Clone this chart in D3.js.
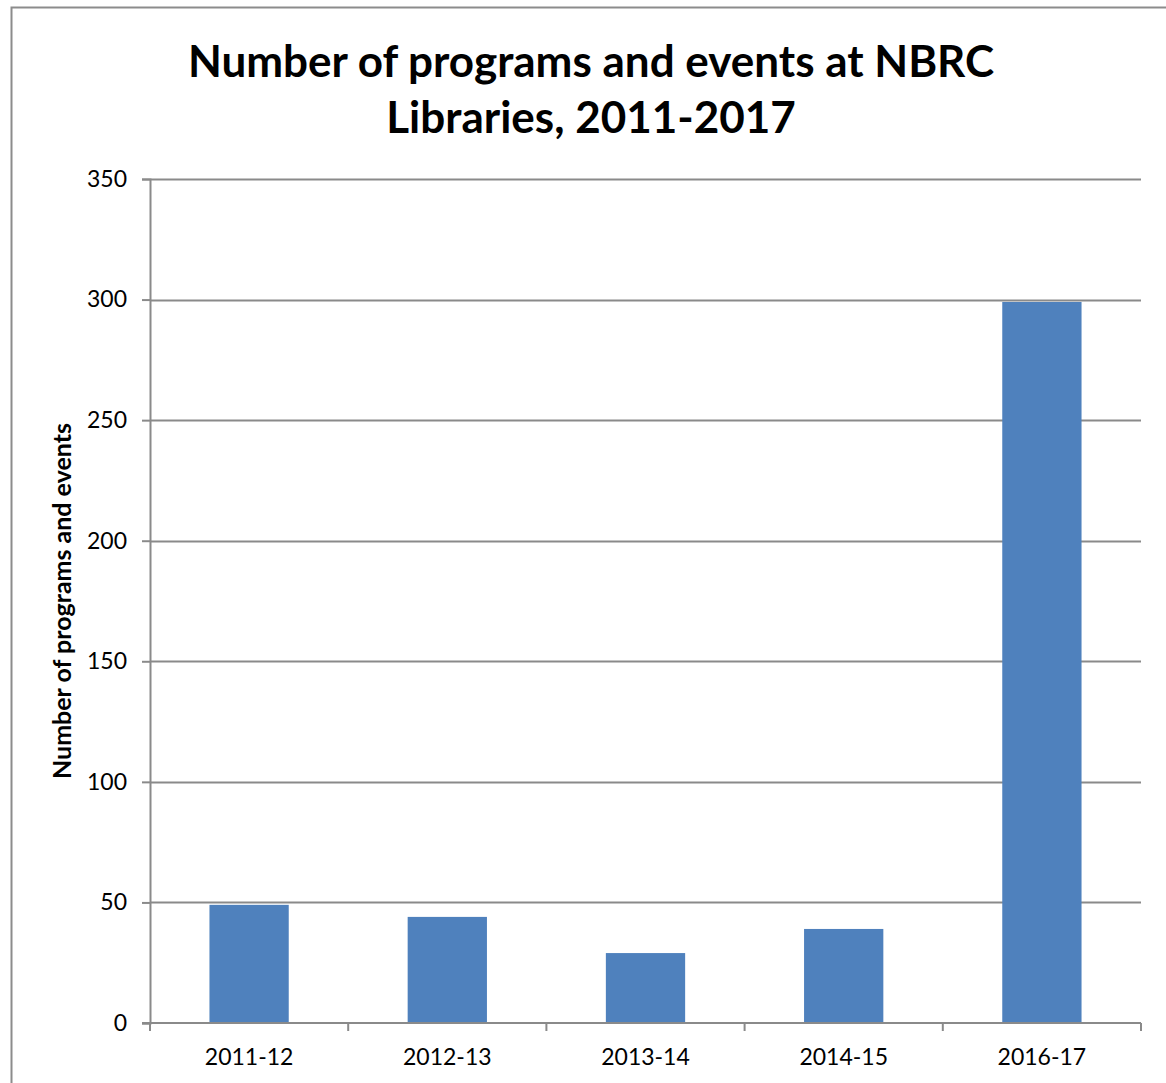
<!DOCTYPE html>
<html>
<head>
<meta charset="utf-8">
<script src="https://cdn.jsdelivr.net/npm/d3@7"></script>
<style>
  html, body { margin: 0; padding: 0; background: #fff; }
  svg { display: block; }
  text { font-family: Lato, "Open Sans", sans-serif; fill: #000; }
</style>
</head>
<body>
<svg id="chart" width="1166" height="1083"></svg>
<script>
// Fiscal years and number of library programs/events held in each
const categories = ["2011-12", "2012-13", "2013-14", "2014-15", "2016-17"];
const values = [49, 44, 29, 39, 299];
const yTicks = [0, 50, 100, 150, 200, 250, 300, 350];
const titleLines = ["Number of programs and events at NBRC", "Libraries, 2011-2017"];
const yAxisLabel = "Number of programs and events";

const svg = d3.select("#chart");
const W = 1166, H = 1083;
const margin = { left: 150, right: 25, top: 179, bottom: 60 };
const plotRight = W - margin.right;
const plotBottom = H - margin.bottom;

// outer chart frame (extends past the right and bottom edges)
svg.append("rect")
  .attr("x", 11.5).attr("y", 7.5)
  .attr("width", W + 20).attr("height", H + 20)
  .attr("fill", "#fff").attr("stroke", "#8c8c8c").attr("stroke-width", 2);

const x = d3.scaleBand()
  .domain(categories)
  .range([margin.left, plotRight])
  .paddingInner(0.6).paddingOuter(0.3);

const y = d3.scaleLinear()
  .domain([0, 350])
  .range([plotBottom, margin.top]);

// horizontal gridlines
svg.append("g")
  .selectAll("line")
  .data(yTicks.filter(d => d > 0))
  .join("line")
  .attr("x1", margin.left).attr("x2", plotRight)
  .attr("y1", d => Math.round(y(d)) + 0.5).attr("y2", d => Math.round(y(d)) + 0.5)
  .attr("stroke", "#8a8a8a").attr("stroke-width", 2);

// bars
svg.append("g")
  .selectAll("rect")
  .data(values)
  .join("rect")
  .attr("x", (d, i) => x(categories[i]))
  .attr("width", x.bandwidth())
  .attr("y", d => y(d))
  .attr("height", d => y(0) - y(d))
  .attr("fill", "#4f81bd");

// y axis
const yAxis = d3.axisLeft(y).tickValues(yTicks).tickSize(8).tickPadding(15);
const gy = svg.append("g")
  .attr("transform", `translate(${margin.left},0)`)
  .call(yAxis);
gy.select(".domain").attr("stroke", "#8a8a8a").attr("stroke-width", 2);
gy.selectAll(".tick line").attr("stroke", "#8a8a8a").attr("stroke-width", 2);
gy.selectAll(".tick text")
  .attr("font-size", 23).attr("font-family", "Lato, sans-serif").attr("fill", "#000");

// x axis with ticks at category boundaries
const boundaries = d3.range(categories.length + 1).map(i => margin.left + i * (plotRight - margin.left) / categories.length);
const gx = svg.append("g");
gx.append("line")
  .attr("x1", margin.left - 8).attr("x2", plotRight)
  .attr("y1", y(0)).attr("y2", y(0))
  .attr("stroke", "#8a8a8a").attr("stroke-width", 2);
gx.selectAll("line.tk")
  .data(boundaries)
  .join("line").attr("class", "tk")
  .attr("x1", d => d).attr("x2", d => d)
  .attr("y1", y(0)).attr("y2", y(0) + 8)
  .attr("stroke", "#8a8a8a").attr("stroke-width", 2);
gx.selectAll("text")
  .data(categories)
  .join("text")
  .attr("x", d => x(d) + x.bandwidth() / 2)
  .attr("y", y(0) + 42)
  .attr("text-anchor", "middle")
  .attr("font-size", 23)
  .text(d => d);

// y axis title
svg.append("text")
  .attr("transform", `translate(71, ${(margin.top + plotBottom) / 2}) rotate(-90)`)
  .attr("text-anchor", "middle")
  .attr("font-size", 25)
  .attr("font-weight", "bold")
  .text(yAxisLabel);

// chart title
svg.append("g")
  .selectAll("text")
  .data(titleLines)
  .join("text")
  .attr("x", 591)
  .attr("y", (d, i) => 77 + i * 56)
  .attr("text-anchor", "middle")
  .attr("font-size", 44)
  .attr("font-weight", "bold")
  .text(d => d);
</script>
</body>
</html>
